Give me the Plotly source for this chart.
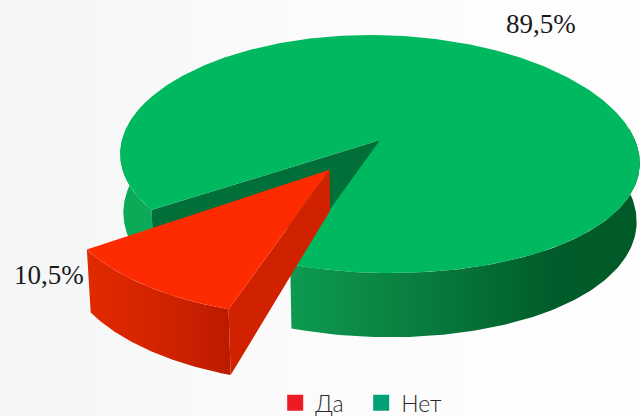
import numpy as np
import plotly.graph_objects as go

labels = ["Да", "Нет"]
values = [10.5, 89.5]
value_text = ["10,5%", "89,5%"]
legend_colors = ["#ED1C24", "#00A079"]

W, H = 640, 416
CX, CY = 380, 140
RX, RY = 258, 117.3
K = 0.1176      # perspective along the view direction
M = 0.012       # perspective along the depth of the disc
T = 59          # thickness
BEND_A, BEND_B = 0.0175, 0.000067
START = 108     # where the first slice begins, degrees
EXPLODE = 0.315
RED_RU, RED_RV = 1.01, 1.04
RED_INNER_H = 0.68


def project(u, v, h=0.0):
    w = 1 - K * v + M * h
    x = RX * u / w
    y = (RY * v + T * h) / w
    return CX + x, CY + y + BEND_A * x + BEND_B * x * x


def arc(a0, a1, h=0.0, off=(0, 0), ru=1.0, rv=1.0, n=120):
    t = np.radians(np.linspace(a0, a1, n))
    return project(off[0] + ru * np.cos(t), off[1] + rv * np.sin(t), h)


sweep = values[0] / sum(values) * 360
a_start, a_end = START, START + sweep
mid = np.radians((a_start + a_end) / 2)
off = (EXPLODE * np.cos(mid), EXPLODE * np.sin(mid))

fig = go.Figure()


def poly(xs, ys, color=None, grad=None):
    tr = dict(x=list(xs), y=list(ys), mode="lines", fill="toself",
              line=dict(width=0), hoverinfo="skip", showlegend=False)
    if grad:
        tr["fillgradient"] = dict(type="horizontal", start=grad[0], stop=grad[1], colorscale=grad[2])
        tr["fillcolor"] = grad[2][0][1]
    else:
        tr["fillcolor"] = color
    fig.add_trace(go.Scatter(**tr))


# background wash
poly([0, W, W, 0], [0, 0, H, H],
     grad=(0, W, [[0, "#F4F5F5"], [0.45, "#FBFBFB"], [1, "#FFFFFF"]]))

# green outer side, right part
x1, y1 = arc(a_start, -10)
x2, y2 = arc(-10, a_start, h=1)
poly(np.r_[x1, x2], np.r_[y1, y2],
     grad=(293, 640, [[0, "#0D9A50"], [0.4, "#087A3D"], [0.75, "#005C2A"], [1, "#005A28"]]))

# green outer side, left part
x1, y1 = arc(a_end, 200)
x2, y2 = arc(200, a_end, h=1)
poly(np.r_[x1, x2], np.r_[y1, y2], color="#0BAA59")

# green inner wall
bx, by = project(np.cos(np.radians(a_end)), np.sin(np.radians(a_end)))
bx2, by2 = project(np.cos(np.radians(a_end)), np.sin(np.radians(a_end)), 1)
ax2, ay2 = project(0, 0, 1)
poly([CX, bx, bx2, ax2], [CY, by, by2, ay2], color="#006F38")

# green top
x1, y1 = arc(a_end, a_start + 360, n=400)
poly(np.r_[CX, x1], np.r_[CY, y1], color="#00B85F")

# red side
x1, y1 = arc(a_start, a_end, off=off, ru=RED_RU, rv=RED_RV)
x2, y2 = arc(a_end, a_start, h=1, off=off, ru=RED_RU, rv=RED_RV)
poly(np.r_[x1, x2], np.r_[y1, y2],
     grad=(88, 232, [[0, "#E02A00"], [0.6, "#CF2200"], [1, "#BA1A00"]]))

# red radial wall
c = (RED_RU * np.cos(np.radians(a_start)), RED_RV * np.sin(np.radians(a_start)))
p0 = project(*off)
p1 = project(off[0] + c[0], off[1] + c[1])
p2 = project(off[0] + c[0], off[1] + c[1], 1)
p3 = project(off[0], off[1], RED_INNER_H)
poly([p0[0], p1[0], p2[0], p3[0]], [p0[1], p1[1], p2[1], p3[1]], color="#D02100")

# red top
x1, y1 = arc(a_start, a_end, off=off, ru=RED_RU, rv=RED_RV)
poly(np.r_[p0[0], x1], np.r_[p0[1], y1], color="#FF2B00")

# legend entries
for name, col in zip(labels, legend_colors):
    fig.add_trace(go.Scatter(x=[None], y=[None], mode="markers", name=name,
                             marker=dict(symbol="square", size=20, color=col)))

fig.add_annotation(x=49, y=275, text=value_text[0], showarrow=False,
                   font=dict(family="Liberation Serif", size=27, color="#1a1a1a"))
fig.add_annotation(x=541, y=24, text=value_text[1], showarrow=False,
                   font=dict(family="Liberation Serif", size=27, color="#1a1a1a"))

fig.update_layout(
    width=W, height=H, margin=dict(l=0, r=0, t=0, b=0, autoexpand=False),
    paper_bgcolor="white", plot_bgcolor="white",
    xaxis=dict(range=[0, W], visible=False, fixedrange=True),
    yaxis=dict(range=[H, 0], visible=False, fixedrange=True),
    legend=dict(orientation="h", x=0.43, y=-0.02, xanchor="left", yanchor="bottom",
                bgcolor="rgba(0,0,0,0)", itemwidth=30, entrywidth=41, entrywidthmode="pixels",
                font=dict(family="Lato Light, Lato", size=23, color="#2a2a2a")),
)

fig.write_html("out.html", config={"displayModeBar": False},
               post_script="document.body.style.margin='0';document.body.style.overflow='hidden';")
